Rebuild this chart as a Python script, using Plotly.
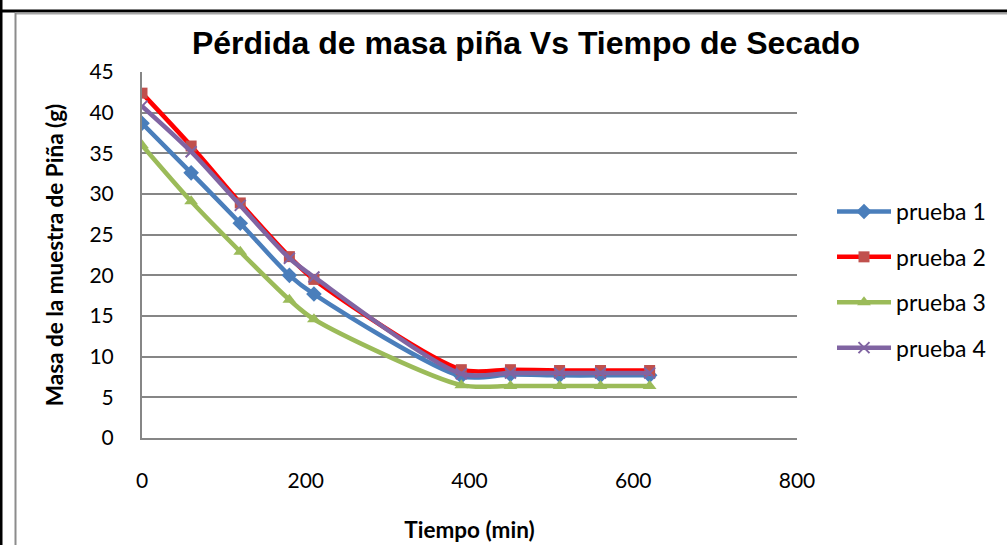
import plotly.graph_objects as go

# ---- data ----
tiempo = [0, 60, 120, 180, 210, 390, 450, 510, 560, 620]
prueba1 = [38.7, 32.6, 26.4, 20.0, 17.7, 7.6, 7.8, 7.7, 7.7, 7.7]
prueba2 = [42.4, 35.9, 28.9, 22.3, 19.5, 8.4, 8.4, 8.3, 8.3, 8.3]
prueba3 = [36.0, 29.1, 22.9, 17.0, 14.6, 6.5, 6.4, 6.4, 6.4, 6.4]
prueba4 = [40.8, 35.2, 28.6, 22.1, 19.8, 7.9, 8.0, 8.0, 8.0, 8.0]
series_names = ["prueba 1", "prueba 2", "prueba 3", "prueba 4"]
x_ticks = [0, 200, 400, 600, 800]
y_ticks = [0, 5, 10, 15, 20, 25, 30, 35, 40, 45]

W, H = 1007, 545
L, R, T, B = 142, 210, 72, 107
PW, PH = W - L - R, H - T - B

styles = [
    dict(line=dict(color="#4A7EBB", width=4.5), marker=dict(symbol="diamond", size=12, color="#4A7EBB")),
    dict(line=dict(color="#FF0000", width=4.5), marker=dict(symbol="square", size=11, color="#C0504D")),
    dict(line=dict(color="#9BBB59", width=4.5), marker=dict(symbol="triangle-up", size=12, color="#9BBB59")),
    dict(line=dict(color="#8064A2", width=4.5), marker=dict(symbol="x-thin", size=11, color="#8064A2",
                                                          line=dict(width=2, color="#8064A2"))),
]

fig = go.Figure()
for name, ys, st in zip(series_names, [prueba1, prueba2, prueba3, prueba4], styles):
    fig.add_trace(go.Scatter(
        x=tiempo, y=ys, name=name, mode="lines+markers",
        line=dict(shape="spline", smoothing=0.8, **st["line"]),
        marker=st["marker"], legendgroup=name,
    ))

def px_x(p):
    return (p - L) / PW

def px_y(p):
    return (H - B - p) / PH

shapes = [
    # outer black frame lines
    dict(type="line", xref="paper", yref="paper", x0=px_x(0), x1=px_x(W), y0=px_y(11), y1=px_y(11),
         line=dict(color="black", width=3)),
    dict(type="line", xref="paper", yref="paper", x0=px_x(1), x1=px_x(1), y0=px_y(0), y1=px_y(H),
         line=dict(color="black", width=3)),
    # grey chart border
    dict(type="line", xref="paper", yref="paper", x0=px_x(15), x1=px_x(W), y0=px_y(13.5), y1=px_y(13.5),
         line=dict(color="#A6A6A6", width=2)),
    dict(type="line", xref="paper", yref="paper", x0=px_x(15.5), x1=px_x(15.5), y0=px_y(13), y1=px_y(H),
         line=dict(color="#8C8C8C", width=2)),
]

tick_font = dict(family="Lato, Calibri, sans-serif", size=21, color="black")
title_font = dict(family="Lato, Calibri, sans-serif", size=22.5, color="black")

fig.update_layout(
    width=W, height=H,
    margin=dict(l=L, r=R, t=T, b=B, autoexpand=False),
    paper_bgcolor="white", plot_bgcolor="white",
    title=dict(text="<b>Pérdida de masa piña Vs Tiempo de Secado</b>",
               font=dict(family="Liberation Sans, Arial, sans-serif", size=32, color="black"),
               x=526 / W, xanchor="center", y=1 - 43 / H, yanchor="middle"),
    xaxis=dict(range=[0, 800], tickvals=x_ticks, showgrid=False, zeroline=False,
               showline=True, linecolor="#868686", linewidth=2,
               ticks="", ticklabelstandoff=23, tickfont=tick_font,
               title=dict(text="<b>Tiempo (min)</b>", standoff=31, font=title_font)),
    yaxis=dict(range=[0, 45], tickvals=y_ticks, showgrid=True, gridcolor="#868686", gridwidth=2,
               zeroline=False, showline=True, linecolor="#868686", linewidth=2,
               ticks="", ticklabelstandoff=22, tickfont=tick_font,
               title=dict(text="<b>Masa de la muestra de Piña (g)</b>", standoff=20, font=title_font)),
    legend=dict(x=px_x(832), xanchor="left", y=px_y(280), yanchor="middle",
                font=dict(family="Lato, Calibri, sans-serif", size=23, color="black"),
                tracegroupgap=12.5, itemwidth=54, bgcolor="rgba(0,0,0,0)"),
    shapes=shapes,
    showlegend=True,
)

fig.write_html("out.html")
